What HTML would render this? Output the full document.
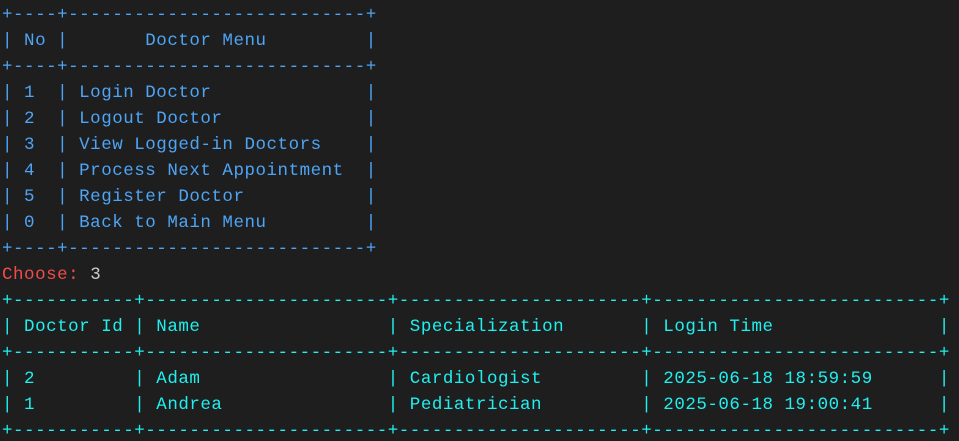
<!DOCTYPE html>
<html><head><meta charset="utf-8"><style>
html,body{margin:0;padding:0;background:#1e1e1e;width:959px;height:441px;overflow:hidden}
pre{margin:0;padding:2px 0 0 2px;font-family:"Liberation Mono",monospace;font-size:17.5px;letter-spacing:0.52px;line-height:26px;white-space:pre;font-weight:normal}
.b{color:#4ea4f5}.c{color:#1ff0ef}.r{color:#f14c4c}.w{color:#cccccc}
</style></head><body><pre><span class="b">+----+---------------------------+
| No |       Doctor Menu         |
+----+---------------------------+
| 1  | Login Doctor              |
| 2  | Logout Doctor             |
| 3  | View Logged-in Doctors    |
| 4  | Process Next Appointment  |
| 5  | Register Doctor           |
| 0  | Back to Main Menu         |
+----+---------------------------+</span>
<span class="r">Choose: </span><span class="w">3</span>
<span class="c">+-----------+----------------------+----------------------+--------------------------+
| Doctor Id | Name                 | Specialization       | Login Time               |
+-----------+----------------------+----------------------+--------------------------+
| 2         | Adam                 | Cardiologist         | 2025-06-18 18:59:59      |
| 1         | Andrea               | Pediatrician         | 2025-06-18 19:00:41      |
+-----------+----------------------+----------------------+--------------------------+</span></pre></body></html>
